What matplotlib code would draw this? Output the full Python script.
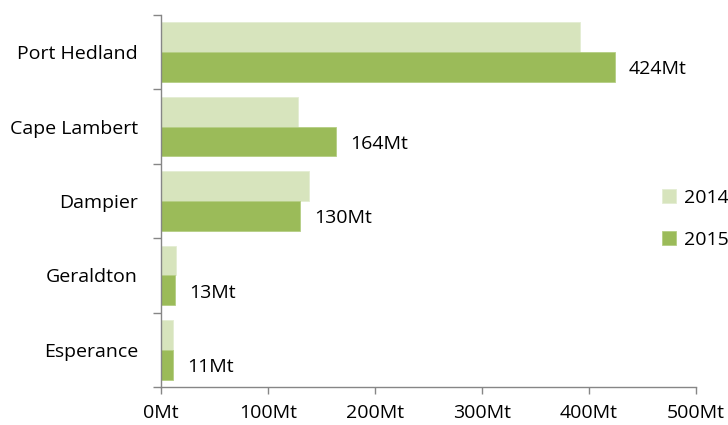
import numpy as np
import matplotlib.pyplot as plt

# data (Mt)
ports = ["Port Hedland", "Cape Lambert", "Dampier", "Geraldton", "Esperance"]
vals_2014 = [392, 128, 138, 14, 11]
vals_2015 = [424, 164, 130, 13, 11]
labels_2015 = ["424Mt", "164Mt", "130Mt", "13Mt", "11Mt"]
xticks = [0, 100, 200, 300, 400, 500]

c14 = "#D7E4BD"
c15 = "#9BBB59"
grey = "#868686"

plt.rcParams['font.family'] = ['Open Sans', 'DejaVu Sans']
fs = 14

fig = plt.figure(figsize=(7.28, 4.25), dpi=100)
ax = fig.add_axes([0.2212, 0.0894, 0.7348, 0.8753])

y = np.arange(len(ports))
h = 0.4
ax.barh(y - h / 2, vals_2014, height=h, color=c14, edgecolor="#E4EDD3", linewidth=0.6, label="2014")
ax.barh(y + h / 2, vals_2015, height=h, color=c15, edgecolor="#B5CE84", linewidth=0.6, label="2015")

for yi, v, s in zip(y, vals_2015, labels_2015):
    ax.text(v + 13, yi + h / 2 + 0.03, s, va="center", ha="left", fontsize=fs, color="black")

ax.set_xlim(0, 500)
ax.set_ylim(len(ports) - 0.5, -0.5)

ax.set_xticks(xticks)
ax.set_xticklabels(["%dMt" % t for t in xticks], fontsize=fs)
ax.tick_params(axis="x", length=5, width=1, color=grey, pad=7.5)

# category boundaries as ticks, names at centers
ax.set_yticks(np.arange(-0.5, len(ports), 1.0))
ax.set_yticklabels([])
ax.tick_params(axis="y", which="major", length=6, width=1, color=grey)
ax.set_yticks(y, minor=True)
ax.set_yticklabels(ports, minor=True, fontsize=fs)
ax.tick_params(axis="y", which="minor", length=0, pad=16.5)

for side in ["top", "right"]:
    ax.spines[side].set_visible(False)
for side in ["left", "bottom"]:
    ax.spines[side].set_color(grey)
    ax.spines[side].set_linewidth(1)

ax.legend(loc="center left", bbox_to_anchor=(0.936, 0.452), frameon=False, fontsize=fs,
          borderpad=0, borderaxespad=0, handlelength=0.75, handleheight=0.75,
          handletextpad=0.4, labelspacing=1.25)

fig.savefig("out.png", dpi=100)
